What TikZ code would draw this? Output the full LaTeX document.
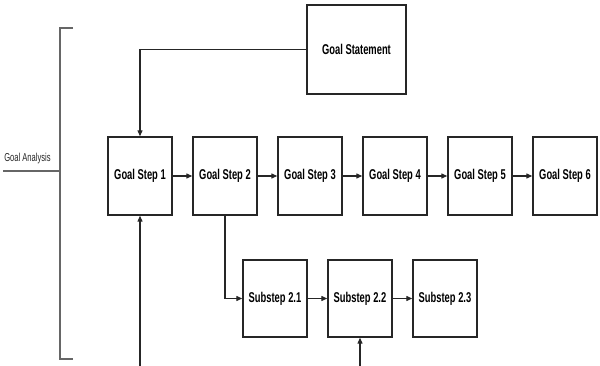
\documentclass[tikz,border=0pt]{standalone}
\usepackage{fontspec}
\newfontfamily\boxfont{Liberation Sans}[FakeStretch=0.66]
\usetikzlibrary{arrows.meta}
\tikzset{
  stepbox/.style={draw=black!85, line width=1.4pt, minimum width=64pt, minimum height=78pt, inner sep=0pt,
    font=\boxfont\bfseries\fontsize{14.2}{16}\selectfont},
  conn/.style={line width=1.2pt, draw=black!85, -{Triangle[length=6pt,width=5pt]}},
  bracket/.style={line width=1.1pt, draw=black!60}
}
\begin{document}
\begin{tikzpicture}[x=1pt,y=-1pt]
\useasboundingbox (0,0) rectangle (600,366);
\node[stepbox, minimum width=99pt, minimum height=89pt] (gs) at (356.5,49.5) {Goal Statement};
\foreach \i/\x in {1/140,2/225,3/310,4/395,5/480,6/565}
  \node[stepbox] (s\i) at (\x,176) {Goal Step \i};
\node[stepbox, minimum height=77pt] (u1) at (275,298.5) {Substep 2.1};
\node[stepbox, minimum height=77pt] (u2) at (360,298.5) {Substep 2.2};
\node[stepbox, minimum height=77pt] (u3) at (445,298.5) {Substep 2.3};
\foreach \a/\b in {1/2,2/3,3/4,4/5,5/6}
  \draw[conn] (s\a) -- (s\b);
\draw[conn] (u1) -- (u2);
\draw[conn] (u2) -- (u3);
\draw[conn] (gs.west) -| (s1.north);
\coordinate (b1) at (140,366);
\coordinate (b2) at (360,366);
\draw[conn] (b1) -- (s1.south);
\draw[conn] (b2) -- (u2.south);
\draw[conn] (s2.south) |- (u1.west);
\coordinate (bt) at (73,28);
\coordinate (bb) at (73,359);
\coordinate (bl) at (3,171);
\draw[bracket] (bt) -- (60,28) -- (60,359) -- (bb);
\draw[bracket] (bl) -- (60,171);
\node[font=\boxfont\fontsize{11.5}{13}\selectfont, text=black!85, inner sep=0pt] (ga) at (27.5,159) {Goal Analysis};
\end{tikzpicture}
\end{document}
